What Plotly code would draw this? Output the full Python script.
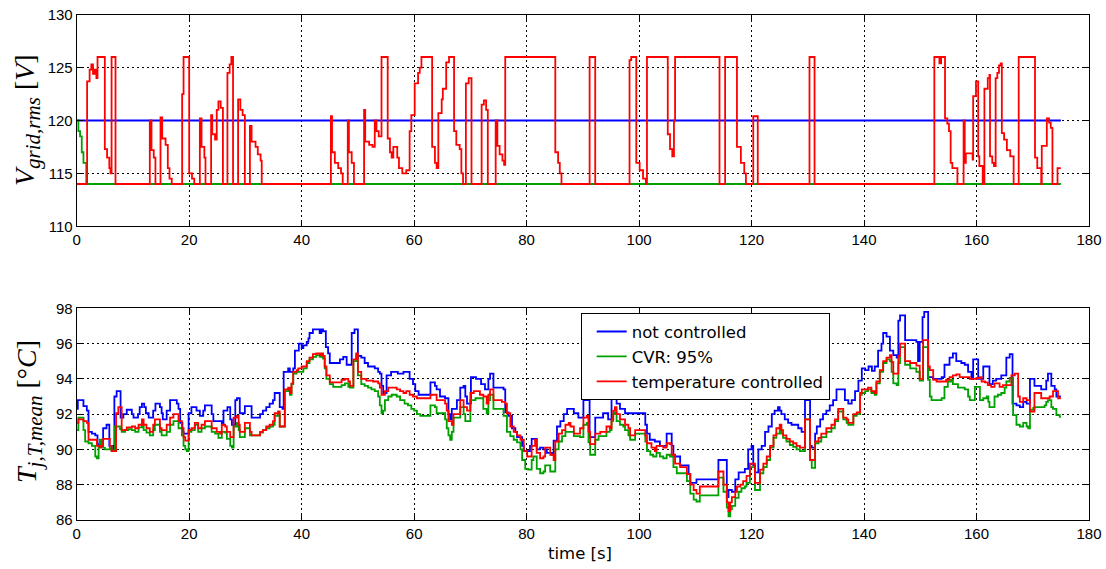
import plotly.graph_objects as go

# ---------------- top panel: grid voltage ----------------
t_vnc = [0, 175]
v_vnc = [120, 120]

t_vcvr = [0, 0.3, 0.6, 0.9, 1.2, 1.7, 175]
v_vcvr = [120, 119, 118.5, 117, 116, 114, 114]

t_vtc = [0, 1.85, 2.3, 2.6, 2.9, 3.2, 3.5, 3.7, 5.0, 5.4, 5.8, 6.0, 6.2, 6.9,
         13.0, 13.3, 13.7, 14.0, 14.9, 15.2, 15.8, 16.2, 16.5, 16.9,
         18.75, 19.0, 20.0, 20.5, 20.9, 21.9, 22.2, 22.7, 22.9,
         23.9, 24.1, 24.6, 24.9, 25.2, 25.6, 26.0, 26.8, 27.2, 27.5, 27.8,
         28.7, 29.1, 29.5, 29.9, 30.8, 31.1, 31.8, 32.2, 32.7, 32.9,
         45.2, 45.4, 45.9, 46.5, 47.0, 47.3, 48.2, 48.4, 48.9, 49.3,
         51.1, 51.3, 52.0, 52.6, 53.0, 53.3, 53.7, 54.2, 55.3, 55.7, 56.0, 56.3,
         57.0, 57.3, 57.9, 58.6, 59.2, 59.5, 60.1, 60.7, 61.0, 61.3,
         63.2, 63.7, 64.0, 64.3, 64.9, 65.1, 65.7, 66.2, 67.1, 67.5, 68.1, 68.4, 68.7,
         69.2, 69.7, 70.2, 72.0, 72.4, 72.8, 73.1, 74.5, 74.8, 75.2, 75.7, 76.0, 76.2,
         85.1, 85.6, 85.9, 86.2, 91.2, 92.2, 98.3, 98.6, 99.5, 100.1, 100.7, 101.2,
         101.4, 105.1, 105.5, 105.9, 106.2, 106.4, 114.3, 115.3, 117.4, 118.1, 118.7, 119.0,
         120.3, 121.1, 130.3, 131.2, 152.5, 153.4, 153.7, 154.4, 154.8, 155.1, 155.4, 155.7, 156.6,
         157.7, 157.9, 158.1, 159.0, 159.3, 159.4, 159.9, 160.3, 160.5, 161.1,
         161.4, 162.0, 162.3, 162.4, 162.8, 163.1, 163.4, 163.7, 164.0, 164.3,
         164.5, 164.9, 165.4, 166.0, 166.6, 167.5, 170.4, 170.8, 171.5,
         171.6, 172.5, 172.9, 173.2, 173.5, 174.4, 175.0]
v_vtc = [114, 123.7, 124.8, 125.3, 124.4, 124.8, 124.0, 126, 117.3, 116.5, 115.5, 115.0, 126, 114,
         120, 117.2, 116.5, 114, 120.3, 118.3, 117.7, 115.5, 114.5, 114,
         122.5, 126, 115, 114.5, 114, 120.2, 117.5, 116.5, 114,
         120.5, 118.7, 118.2, 121, 121.8, 121.2, 114, 124.5, 125.3, 126, 114,
         122, 121, 120.5, 114, 119.5, 118, 117.5, 116.8, 116.2, 114,
         120.4, 117, 116, 115.5, 115, 114, 120, 117, 116, 114,
         121, 118, 117.7, 117.5, 120, 119, 118.5, 126, 118.3, 117, 116.5, 117.5,
         116.5, 115.5, 115.0, 115.3, 119, 120.5, 123.5, 124.5, 125, 126,
         117.5, 116, 115.5, 120.7, 122, 123, 125.5, 126, 119, 117.7, 117.3, 115, 114,
         123.5, 124, 114, 121.5, 121.9, 121, 114, 120, 117.6, 116.8, 116.2, 115.8, 126,
         117, 116, 115, 114, 126, 114, 125.7, 126, 116, 115.3, 114.5, 114,
         126, 118.7, 117.3, 116.6, 120, 126, 114, 126, 117.5, 116, 115, 114,
         120.4, 114, 126, 114, 126, 125.4, 126, 120.2, 119.7, 119, 116, 115.5, 114,
         120, 116, 116.9, 116.9, 116.3, 122.3, 123.7, 116.6, 115.7, 114,
         123, 124, 124.3, 116.6, 116, 115.7, 124, 124.5, 125.2, 125.4,
         118.8, 118.2, 117.2, 116.6, 114, 126, 116.5, 115.5, 114,
         117.6, 120.2, 119.8, 119.3, 114, 115.5, 115.5]

# ---------------- bottom panel: mean junction temperature ----------------
t_nc = [0, 0.2, 1.2, 1.8, 2.1, 2.7, 3.3, 3.7, 4.4, 4.7, 5.3, 5.8, 6.5, 6.7, 7.1, 7.8, 8.3, 8.9,
        9.8, 10.1, 10.9, 11.2, 11.6, 12.0, 12.3, 12.8, 13.6, 14.0, 14.8, 15.1, 15.3, 16.0, 16.6,
        17.8, 18.1, 18.4, 18.8, 19.0, 19.9, 20.4, 21.3, 21.9, 22.5, 22.8, 24.0, 24.3, 25.8, 26.1,
        26.8, 27.3, 27.6, 28.2, 28.5, 29.0, 29.9, 31.1, 32.6, 33.1, 33.7, 34.3, 34.9, 35.2, 36.1,
        36.6, 36.8, 37.6, 37.9, 38.5, 38.8, 39.5, 40.0, 40.3, 40.9, 41.2, 41.4, 42.0, 43.2, 43.5,
        43.8, 44.3, 44.7, 45.0, 46.8, 47.4, 48.0, 48.9, 49.4, 50.0, 50.6, 51.2, 51.8, 53.0, 53.6,
        53.9, 54.2, 54.5, 55.1, 55.9, 57.1, 58.1, 59.2, 59.8, 60.2, 60.8, 62.9, 63.7, 64.0, 64.6,
        65.5, 66.1, 66.4, 66.7, 67.6, 68.2, 68.8, 69.1, 69.4, 70.1, 71.0, 71.9, 72.6, 73.2, 73.5,
        74.1, 75.9, 76.2, 76.8, 77.4, 78.0, 78.3, 79.2, 79.5, 80.6, 80.9, 81.8, 82.4, 83.0, 83.6,
        84.5, 84.8, 85.4, 86.0, 86.6, 87.2, 88.4, 89.2, 89.5, 90.1, 91.2, 92.2, 93.6, 94.5, 95.1,
        95.4, 96.0, 96.6, 97.5, 101.1, 101.4, 101.9, 102.8, 103.7, 104.9, 105.8, 106.1, 107.3,
        108.8, 109.1, 110.2, 114.1, 115.6, 115.9, 116.5, 117.1, 117.7, 118.8, 119.4, 120.0, 120.3,
        120.6, 121.2, 121.8, 122.4, 123.0, 123.6, 124.1, 124.7, 125.0, 125.3, 125.9, 126.5, 127.1,
        128.3, 128.9, 129.5, 130.4, 130.7, 131.3, 131.6, 132.2, 132.7, 133.3, 133.9, 134.5, 135.1,
        136.6, 137.2, 137.8, 138.4, 139.0, 139.6, 140.2, 140.8, 141.4, 141.9, 142.5, 143.1, 143.4,
        144.0, 144.6, 145.2, 145.8, 146.1, 146.4, 147.3, 149.3, 149.6, 149.9, 150.4, 150.7, 151.4,
        152.3, 153.8, 154.3, 155.2, 155.8, 156.4, 157.3, 157.9, 158.5, 159.1, 159.4, 160.3, 161.2,
        162.3, 162.9, 163.5, 164.4, 165.3, 165.9, 166.4, 167.1, 167.7, 168.3, 168.9, 169.5, 170.3,
        171.5, 172.4, 172.7, 173.3, 173.9, 174.2, 175.0]
v_nc = [92.3, 92.8, 92.45, 92.2, 91.0, 90.9, 90.8, 90.3, 90.2, 91.2, 91.4, 90.2, 90.0, 93.0, 93.3, 91.8, 92.0, 92.25,
        92.0, 91.8, 92.0, 92.4, 92.6, 92.4, 92.05, 91.8, 92.2, 92.6, 92.4, 92.05, 91.7, 92.2, 92.8,
        92.6, 92.3, 91.5, 91.0, 90.9, 92.05, 92.4, 92.2, 91.9, 92.2, 92.5, 92.0, 91.6, 91.4, 92.2,
        92.4, 91.7, 91.4, 92.8, 92.9, 92.05, 92.45, 91.8, 92.0, 92.2, 92.4, 92.6, 92.8, 93.2, 92.4,
        92.3, 94.4, 94.6, 94.4, 94.6, 95.6, 96.0, 95.75, 95.9, 96.1, 96.3, 96.6, 96.8, 96.6, 96.8,
        96.7, 95.8, 95.45, 94.9, 95.1, 95.25, 94.8, 96.6, 96.8, 95.3, 95.2, 94.9, 94.7, 94.6, 94.4,
        94.3, 93.6, 93.2, 94.2, 94.4, 94.3, 94.4, 94.0, 93.7, 93.3, 93.1, 93.8, 93.6, 93.4, 93.0,
        92.9, 92.0, 91.7, 92.3, 92.8, 93.5, 93.6, 93.0, 92.6, 94.1, 94.0, 93.7, 93.4, 94.0, 94.3,
        93.5, 93.4, 92.1, 91.9, 91.2, 91.0, 90.7, 90.2, 89.9, 90.2, 90.6, 90.0, 90.1, 90.0, 89.8,
        89.7, 90.5, 91.3, 91.6, 92.0, 92.3, 92.05, 91.8, 91.8, 92.8, 90.7, 91.8, 92.05, 91.7, 93.0,
        93.7, 92.6, 92.3, 92.05, 91.4, 90.9, 90.55, 90.45, 90.2, 90.9, 90.2, 89.6, 89.1,
        88.6, 88.1, 88.3, 89.4, 87.3, 87.7, 87.6, 88.3, 88.7, 88.9, 90.0, 90.2, 89.1,
        88.7, 90.0, 90.2, 91.0, 91.3, 92.0, 92.2, 92.4, 92.2, 92.0, 91.7, 91.5, 91.4,
        91.2, 91.0, 92.8, 90.2, 90.1, 90.9, 91.3, 91.7, 92.0, 92.2, 92.5, 92.8, 93.4,
        92.8, 92.6, 92.8, 93.3, 93.9, 94.6, 94.5, 94.7, 94.45, 94.7, 95.6, 96.0, 96.6,
        96.4, 95.6, 95.35, 95.2, 97.3, 97.6, 96.2, 96.1, 95.0, 96.1, 97.5, 97.8, 94.1,
        94.0, 94.1, 94.8, 95.2, 95.45, 95.0, 94.9, 94.8, 94.4, 94.0, 95.1, 94.0, 94.7,
        93.7, 93.9, 94.0, 94.2, 95.2, 95.4, 92.6, 92.5, 92.4, 92.7, 92.6, 94.0, 93.6,
        93.4, 93.9, 94.3, 93.6, 93.4, 93.0, 93.0]

t_cvr = [0, 0.3, 1.2, 1.5, 2.1, 2.7, 3.3, 3.6, 3.9, 4.1, 4.4, 4.7, 5.0, 5.9, 6.2, 6.8, 7.7, 8.0, 8.6,
         9.2, 9.8, 10.4, 11.0, 11.6, 11.9, 12.4, 13.0, 13.6, 13.9, 14.8, 15.1, 16.0, 16.6, 17.2, 18.1,
         18.7, 19.0, 19.3, 19.6, 19.9, 20.4, 21.0, 21.6, 22.2, 22.8, 24.0, 24.6, 25.2, 25.8, 26.4,
         26.7, 27.3, 27.6, 27.9, 28.5, 28.8, 29.0, 29.9, 30.8, 32.6, 33.1, 33.7, 34.3, 34.9, 35.2,
         35.8, 36.1, 37.0, 37.6, 37.9, 38.2, 38.5, 39.1, 40.3, 40.9, 41.4, 42.0, 42.6, 43.2, 43.8,
         44.1, 44.4, 45.0, 45.6, 47.1, 47.7, 48.3, 48.6, 49.2, 49.7, 50.0, 50.6, 51.2, 51.8, 52.4,
         53.0, 53.6, 53.9, 54.2, 54.5, 54.8, 55.4, 56.0, 56.9, 57.5, 58.3, 58.9, 59.5, 60.0, 60.5,
         61.1, 62.9, 63.7, 64.0, 65.5, 65.8, 66.1, 66.4, 66.7, 67.0, 68.2, 68.8, 69.1, 70.0, 70.9,
         72.3, 72.9, 73.2, 73.5, 74.1, 75.9, 76.5, 77.1, 77.7, 78.3, 78.9, 79.2, 79.75, 80.3, 80.9,
         81.2, 81.8, 82.4, 83.0, 83.3, 84.2, 85.1, 85.7, 86.3, 86.9, 88.4, 89.5, 90.1, 90.7, 91.0,
         91.3, 92.2, 92.8, 94.2, 94.8, 95.1, 95.4, 95.7, 96.0, 96.6, 97.2, 97.5, 98.1, 98.4, 99.3,
         101.1, 101.4, 102.0, 102.5, 103.1, 103.7, 104.3, 104.9, 105.5, 106.1, 106.7, 108.5, 109.1,
         109.7, 110.2, 110.8, 114.1, 115.0, 115.6, 115.9, 116.2, 116.5, 117.1, 117.7, 118.2, 118.8,
         119.1, 119.7, 120.6, 121.5, 122.1, 122.7, 123.3, 123.9, 124.4, 125.0, 125.3, 125.6, 126.2,
         126.8, 127.4, 128.0, 128.6, 129.5, 130.4, 130.7, 131.3, 131.9, 132.4, 133.3, 134.2, 134.8,
         135.4, 136.3, 136.9, 137.2, 138.1, 138.7, 139.3, 139.6, 140.2, 140.7, 141.3, 141.9, 142.2,
         142.8, 143.4, 144.0, 144.6, 144.9, 145.2, 145.8, 146.1, 146.4, 147.3, 148.2, 149.3, 149.9,
         150.5, 151.4, 151.7, 152.0, 153.8, 154.3, 154.9, 155.5, 155.8, 156.7, 157.9, 158.5, 158.8,
         159.7, 160.6, 161.2, 161.8, 162.1, 162.3, 163.2, 163.8, 164.4, 165.0, 165.3, 165.9, 166.5,
         167.1, 167.7, 168.3, 168.9, 169.2, 169.5, 170.1, 170.3, 172.1, 172.4, 172.7, 173.3, 173.6,
         174.2, 174.8, 175.0]
v_cvr = [91.1, 91.8, 91.1, 90.45, 90.35, 90.2, 89.6, 89.5, 90.2, 90.55, 90.3, 90.1, 90.0, 90.2, 89.95, 91.3, 91.15, 91.0, 91.1,
         91.15, 91.1, 91.0, 91.25, 91.4, 91.1, 90.95, 90.8, 91.1, 91.4, 91.0, 90.8, 91.0, 91.4, 91.6, 91.2,
         90.8, 90.2, 90.0, 89.9, 91.0, 91.1, 91.4, 91.0, 91.2, 91.3, 91.0, 90.9, 90.65, 91.0, 90.95,
         90.6, 90.2, 90.1, 91.3, 91.5, 91.1, 90.7, 91.2, 90.8, 90.95, 91.1, 91.2, 91.3, 91.4, 91.9,
         92.0, 91.3, 93.3, 93.4, 93.1, 93.7, 94.3, 94.4, 94.6, 94.9, 95.1, 95.25, 95.35, 95.25, 95.15,
         94.6, 94.0, 93.7, 93.55, 93.65, 93.75, 93.55, 93.5, 95.0, 95.35, 94.2, 93.7, 93.6, 93.5, 93.4,
         93.3, 93.0, 92.5, 92.05, 92.2, 92.8, 93.0, 93.1, 93.0, 92.8, 92.6, 92.5, 92.3, 92.2, 92.0,
         91.9, 92.5, 92.4, 92.05, 91.7, 91.2, 90.8, 90.55, 91.0, 91.8, 92.4, 92.0, 91.6, 92.8, 92.9,
         92.3, 92.05, 92.8, 93.1, 92.3, 91.9, 91.0, 90.75, 90.55, 90.4, 90.0, 89.4, 88.9, 88.85, 89.4,
         89.6, 88.9, 88.65, 88.75, 89.1, 88.75, 90.0, 90.45, 90.75, 91.0, 90.75, 90.7, 91.4, 91.5, 90.4,
         89.7, 90.55, 90.75, 91.0, 91.1, 91.6, 92.0, 92.1, 91.6, 91.4, 91.3, 91.1, 90.8, 90.55, 90.9,
         90.45, 89.9, 89.7, 89.6, 89.8, 89.6, 89.5, 89.7, 89.6, 89.0, 88.65, 88.2, 87.5,
         87.15, 87.05, 87.4, 88.4, 87.6, 86.7, 86.2, 86.6, 86.8, 87.25, 87.6, 87.8, 87.9,
         88.1, 89.0, 87.7, 88.65, 89.0, 89.4, 90.1, 90.65, 90.9, 91.2, 90.9, 90.65, 90.45,
         90.25, 90.15, 90.0, 89.9, 91.7, 89.4, 88.95, 90.35, 90.45, 90.7, 91.0, 91.2, 91.6,
         92.15, 91.7, 91.5, 91.4, 91.9, 92.0, 93.1, 93.2, 93.3, 93.4, 93.2, 93.1, 93.75,
         94.4, 94.9, 95.1, 95.0, 94.4, 93.75, 93.65, 94.9, 95.8, 94.8, 94.6, 94.4, 93.9,
         95.8, 93.95, 93.0, 92.8, 92.9, 93.55, 93.85, 93.95, 93.7, 93.5, 93.4, 93.0, 92.8,
         93.55, 92.8, 92.9, 93.0, 92.7, 92.4, 93.0, 93.1, 93.2, 93.5, 93.85, 94.05, 91.95,
         91.4, 91.3, 91.5, 91.3, 91.2, 92.25, 92.35, 92.4, 92.5, 92.7, 92.8, 92.4, 92.3,
         91.95, 91.85, 91.85]

t_tc = [0, 0.3, 1.2, 1.8, 2.1, 3.6, 4.1, 4.4, 4.7, 5.9, 6.2, 7.0, 7.4, 8.0, 8.9, 9.8, 10.4, 11.0, 11.6,
        11.9, 12.4, 13.0, 13.6, 13.9, 14.8, 15.1, 16.0, 16.6, 17.2, 18.1, 18.7, 19.0, 19.3, 19.9, 20.4,
        21.0, 21.6, 22.2, 22.8, 24.0, 24.9, 25.5, 25.8, 26.4, 26.7, 27.3, 27.9, 28.5, 28.8, 29.0, 29.9,
        30.8, 31.1, 32.6, 33.1, 33.7, 34.3, 34.9, 35.2, 35.8, 36.1, 37.0, 37.6, 37.9, 38.2, 38.5, 39.1,
        39.4, 40.0, 40.9, 41.4, 42.0, 42.6, 43.2, 43.5, 43.8, 44.1, 44.4, 45.0, 47.1, 47.7, 48.3, 48.6,
        49.2, 49.7, 50.0, 50.6, 51.5, 52.7, 53.6, 53.9, 54.2, 54.8, 55.4, 56.9, 57.5, 58.1, 58.6, 59.2,
        59.8, 60.5, 62.9, 64.0, 65.5, 65.8, 66.1, 66.7, 67.0, 68.2, 68.8, 69.4, 70.0, 70.6, 71.7, 72.3,
        72.9, 73.2, 73.5, 74.1, 75.6, 76.2, 76.5, 77.1, 77.7, 78.3, 78.9, 79.5, 80.1, 80.9, 81.5, 81.8,
        82.4, 83.0, 83.3, 84.2, 84.8, 85.1, 85.7, 86.3, 86.9, 87.5, 87.8, 88.4, 89.5, 90.1, 90.7, 91.0,
        91.3, 92.2, 93.1, 94.2, 94.8, 95.1, 95.4, 95.7, 96.0, 96.6, 97.5, 98.1, 98.4, 99.3, 101.1, 101.4,
        102.2, 102.8, 103.1, 104.3, 104.9, 105.5, 105.8, 106.4, 107.3, 108.5, 109.1, 109.7, 110.2, 110.8,
        114.1, 115.0, 115.6, 115.9, 116.2, 116.5, 117.1, 117.4, 118.0, 118.5, 119.1, 119.7, 120.6, 121.5,
        122.1, 122.7, 123.3, 123.9, 124.4, 125.0, 125.3, 125.6, 126.2, 126.8, 127.4, 128.0, 128.6, 129.5,
        130.4, 131.3, 131.9, 132.4, 133.3, 134.2, 134.8, 135.4, 136.3, 136.9, 137.2, 138.1, 138.7, 139.3,
        139.6, 140.7, 141.3, 141.9, 142.2, 142.8, 143.4, 144.0, 144.6, 144.9, 145.2, 146.1, 146.4, 147.3,
        148.2, 149.3, 149.9, 150.5, 151.4, 151.7, 152.3, 152.9, 154.6, 155.2, 155.8, 156.4, 157.0, 158.8,
        160.0, 160.6, 160.9, 161.5, 162.0, 162.6, 163.2, 164.1, 164.7, 166.2, 166.8, 167.4, 167.7, 168.3,
        168.9, 169.5, 170.3, 171.5, 173.0, 173.6, 174.5, 175.0]
v_tc = [91.5, 91.7, 91.6, 91.5, 90.55, 90.2, 90.1, 90.2, 90.6, 90.2, 89.9, 92.05, 92.4, 91.1, 91.25, 91.3, 91.2, 91.4, 91.7,
        91.4, 91.2, 91.0, 91.4, 91.7, 91.2, 91.1, 91.4, 91.8, 92.0, 91.6, 91.2, 90.7, 90.5, 91.1, 91.2,
        91.5, 91.2, 91.4, 91.6, 91.2, 91.0, 90.9, 91.4, 91.3, 91.0, 90.7, 91.8, 91.9, 91.4, 91.0, 91.5,
        91.0, 90.8, 91.0, 91.1, 91.3, 91.4, 91.6, 92.05, 92.15, 91.3, 93.4, 93.5, 93.2, 93.75, 94.4, 94.5,
        94.6, 94.7, 95.0, 95.2, 95.4, 95.45, 95.35, 95.45, 95.3, 94.7, 94.2, 93.8, 93.95, 94.0, 93.85, 93.6,
        95.1, 95.45, 94.4, 94.0, 93.9, 93.85, 93.75, 93.5, 93.1, 93.3, 93.5, 93.4, 93.3, 93.2, 93.3, 93.1,
        93.0, 92.9, 93.1, 92.8, 92.6, 92.2, 91.6, 91.4, 92.0, 92.8, 92.4, 92.2, 93.2, 93.3, 93.1, 93.0,
        92.6, 93.1, 93.4, 92.8, 92.7, 92.6, 92.05, 91.3, 91.0, 90.8, 90.55, 89.9, 89.6, 90.2, 90.55, 89.8,
        89.5, 89.6, 90.1, 89.7, 89.4, 90.45, 90.9, 91.1, 91.4, 91.5, 91.3, 90.9, 91.2, 91.8, 91.9, 91.0,
        90.3, 90.9, 91.0, 91.3, 91.2, 91.7, 92.2, 92.4, 92.0, 91.7, 91.4, 91.2, 90.8, 91.1, 90.8, 90.35,
        90.1, 89.9, 90.2, 90.1, 90.35, 90.3, 89.7, 89.2, 89.0, 88.6, 88.0, 87.7, 87.5, 87.9,
        88.75, 88.0, 87.0, 86.5, 87.0, 87.3, 87.6, 87.9, 88.0, 88.2, 88.5, 89.2, 88.1, 88.85,
        89.2, 89.6, 90.2, 90.8, 91.2, 91.4, 91.1, 90.8, 90.6, 90.45, 90.35, 90.2, 90.1, 91.7,
        89.4, 90.45, 90.65, 90.9, 91.2, 91.4, 91.7, 92.3, 91.8, 91.7, 91.5, 92.0, 92.1, 93.2,
        93.4, 93.5, 93.3, 93.2, 93.85, 94.5, 95.0, 95.2, 95.35, 94.95, 94.3, 95.3, 96.0, 95.0,
        94.9, 94.75, 94.0, 96.2, 94.7, 94.5, 93.95, 93.85, 93.95, 94.1, 94.2, 94.25, 94.1, 94.0,
        94.05, 94.1, 93.85, 93.8, 93.65, 93.55, 93.75, 93.55, 93.65, 94.2, 94.3, 93.0, 92.7, 92.9,
        92.8, 92.15, 93.2, 92.9, 93.0, 93.3, 92.9, 92.9]

labels = ["not controlled", "CVR: 95%", "temperature controlled"]
colors = ["#0000FF", "#00A000", "#FF0000"]
LW = 1.8

fig = go.Figure()
# top panel
for tt, vv, c in [(t_vnc, v_vnc, colors[0]), (t_vcvr, v_vcvr, colors[1]), (t_vtc, v_vtc, colors[2])]:
    fig.add_trace(go.Scatter(x=tt, y=vv, mode="lines", line=dict(color=c, width=LW, shape="hv"),
                             showlegend=False, xaxis="x", yaxis="y"))
# bottom panel
for i, (tt, vv, c, name) in enumerate([(t_nc, v_nc, colors[0], labels[0]),
                                        (t_cvr, v_cvr, colors[1], labels[1]),
                                        (t_tc, v_tc, colors[2], labels[2])]):
    fig.add_trace(go.Scatter(x=tt, y=vv, mode="lines", name=name, legendgroup=f"g{i}",
                             line=dict(color=c, width=LW, shape="hv"),
                             xaxis="x2", yaxis="y2"))

tickfont = dict(family="Liberation Sans, Arial, sans-serif", size=15, color="black")
common = dict(showline=True, linecolor="black", linewidth=1, mirror="ticks", ticks="inside",
              ticklen=6, tickcolor="black", showgrid=True, gridcolor="black", gridwidth=1,
              griddash="2px,3px", zeroline=False, tickfont=tickfont, automargin=False)

xdom = [76.7 / 1106, 1089 / 1106]
fig.update_layout(
    template="none",
    width=1106, height=569,
    margin=dict(l=0, r=0, t=0, b=0, pad=0),
    paper_bgcolor="white", plot_bgcolor="white",
    xaxis=dict(domain=xdom, range=[0, 180], dtick=20, tick0=0, anchor="y", **common),
    yaxis=dict(domain=[1 - 226.3 / 569, 1 - 14.7 / 569], range=[110, 130], dtick=5, tick0=110,
               anchor="x", **common),
    xaxis2=dict(domain=xdom, range=[0, 180], dtick=20, tick0=0, anchor="y2", **common),
    yaxis2=dict(domain=[1 - 520 / 569, 1 - 308.3 / 569], range=[86, 98], dtick=2, tick0=86,
                anchor="x2", **common),
    legend=dict(x=580.7 / 1106, y=1 - 313.3 / 569, xanchor="left", yanchor="top",
                bgcolor="white", bordercolor="black", borderwidth=1,
                tracegroupgap=0.5, indentation=10,
                font=dict(family="DejaVu Sans, sans-serif", size=16.5, color="black")),
    showlegend=True,
)

serif = dict(family="Liberation Serif, Times New Roman, serif", size=28, color="black")
sub_open = "<sub><span style='font-size:21px'><i>"
sub_close = "</i></span></sub>"
fig.add_annotation(text="<i>V</i>" + sub_open + "grid,rms" + sub_close + " [<i>V</i>]",
                   x=27 / 1106, y=1 - 120 / 569,
                   xref="paper", yref="paper", textangle=-90, showarrow=False,
                   xanchor="center", yanchor="middle", font=serif)
fig.add_annotation(text="<i>T</i>" + sub_open + "j,T,mean" + sub_close + " [°<i>C</i>]",
                   x=29 / 1106, y=1 - 412 / 569,
                   xref="paper", yref="paper", textangle=-90, showarrow=False,
                   xanchor="center", yanchor="middle", font=serif)
fig.add_annotation(text="time [s]", x=580 / 1106, y=1 - 553 / 569, xref="paper", yref="paper",
                   showarrow=False, xanchor="center", yanchor="middle",
                   font=dict(family="DejaVu Sans, sans-serif", size=16.5, color="black"))

fig.write_html("out.html")
